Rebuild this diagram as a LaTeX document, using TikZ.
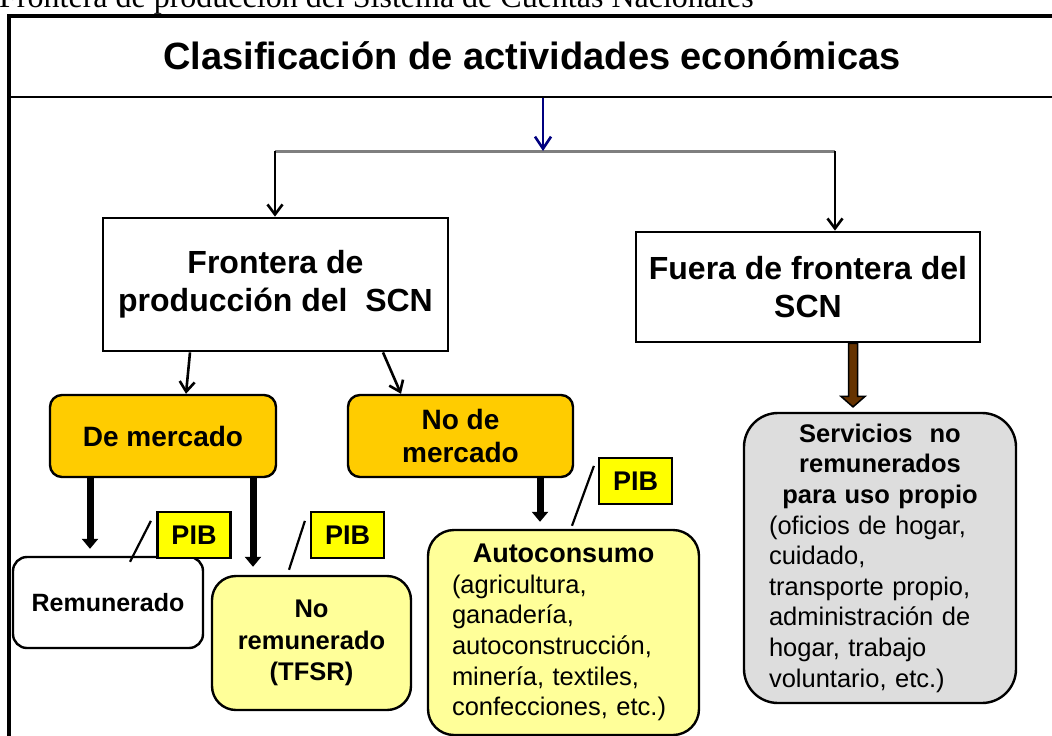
\documentclass[tikz,border=0pt]{standalone}
\usepackage{fontspec}
\setmainfont{Liberation Serif}
\setsansfont{Liberation Sans}
\usetikzlibrary{arrows.meta}
\setlength{\parindent}{0pt}
\definecolor{orangebox}{HTML}{FFCC00}
\definecolor{paleyellow}{HTML}{FFFF99}
\definecolor{pibyellow}{HTML}{FFFF00}
\definecolor{graybox}{HTML}{DDDDDD}
\definecolor{brownarrow}{HTML}{663300}
\definecolor{navyarrow}{HTML}{000080}
\definecolor{splitgray}{HTML}{7F7F7F}
\begin{document}
\begin{tikzpicture}[x=1pt,y=1pt]
\tikzstyle{every node}+=[inner sep=0pt]
\tikzstyle{sqbox}=[draw, line width=2.8pt, fill=white, align=center, font=\sffamily\bfseries\fontsize{32}{38}\selectfont]
\tikzstyle{rbox}=[draw, line width=2.4pt, rounded corners=12pt, align=center, font=\sffamily\bfseries\fontsize{28}{33}\selectfont]
\tikzstyle{pib}=[draw, line width=2.2pt, fill=pibyellow, minimum width=73pt, minimum height=46pt, font=\sffamily\bfseries\fontsize{27}{32}\selectfont]
\tikzstyle{leaf}=[draw, line width=2.4pt, align=center, font=\sffamily\bfseries\fontsize{25.5}{31.5}\selectfont]
\tikzstyle{textleaf}=[draw, line width=2.4pt, align=left, font=\sffamily\fontsize{25.5}{30.6}\selectfont]
\tikzstyle{thinarrow}=[line width=2.6pt, -{Straight Barb[width=15pt,length=10pt]}]
\tikzstyle{thickarrow}=[line width=7pt, -{Triangle[width=16pt,length=10pt]}]
\tikzstyle{slash}=[line width=2.2pt]
\useasboundingbox (0,0) rectangle (1052,-736);
\clip (0,0) rectangle (1052,-736);
\node [anchor=base west, font=\rmfamily\fontsize{32}{38}\selectfont] (caption) at (-1,-7) {Frontera de producción del Sistema de Cuentas Nacionales};
\node [draw, line width=2.4pt, minimum width=1046pt, minimum height=82pt, font=\sffamily\bfseries\fontsize{38}{46}\selectfont] (title) at (532,-56) {Clasificación de actividades económicas};
\draw [line width=4pt] (8.7,-15.5) rectangle (1070,-760);
\node [sqbox, minimum width=345pt, minimum height=133pt] (frontera) at (275.5,-284.5) {Frontera de\\producción del\ \ SCN};
\node [sqbox, minimum width=344pt, minimum height=110pt] (fuera) at (808,-287) {Fuera de frontera del\\SCN};
\node [rbox, fill=orangebox, minimum width=226pt, minimum height=82pt] (mercado) at (163,-436) {De mercado};
\node [rbox, fill=orangebox, minimum width=225pt, minimum height=82pt] (nomercado) at (460.5,-436) {No de\\mercado};
\node [leaf, fill=white, rounded corners=14pt, minimum width=190pt, minimum height=91pt, font=\sffamily\bfseries\fontsize{25}{30}\selectfont] (remunerado) at (108,-602.5) {Remunerado};
\node [leaf, fill=paleyellow, rounded corners=24pt, minimum width=199pt, minimum height=134pt] (noremunerado) at (311.5,-643) {No\\remunerado\\(TFSR)};
\node [textleaf, fill=paleyellow, rounded corners=26pt, text width=223pt, minimum width=271pt, minimum height=205pt] (autoconsumo) at (563.5,-632.5) {{\centering\bfseries\fontsize{27}{30.6}\selectfont Autoconsumo\par}(agricultura,\\ganadería,\\autoconstrucción,\\minería, textiles,\\confecciones, etc.)};
\node [textleaf, fill=graybox, rounded corners=34pt, text width=222pt, minimum width=272pt, minimum height=290pt] (servicios) at (880,-558) {{\centering\bfseries Servicios\ \ no\\remunerados\\para uso propio\par}(oficios de hogar,\\cuidado,\\transporte propio,\\administración de\\hogar, trabajo\\voluntario, etc.)};
\node [pib] (pib1) at (194,-535) {PIB};
\node [pib] (pib2) at (347.5,-535) {PIB};
\node [pib] (pib3) at (635.5,-481) {PIB};
\coordinate (splitL) at (275,-151);
\coordinate (splitC) at (543,-151);
\coordinate (splitR) at (835,-151);
\draw [line width=3pt, splitgray] (splitL) -- (splitR);
\draw [line width=2.6pt, navyarrow, -{Straight Barb[width=16pt,length=12pt]}] (title.south -| splitC) -- (splitC);
\draw [thinarrow] (splitL) -- (splitL |- frontera.north);
\draw [thinarrow] (splitR) -- (splitR |- fuera.north);
\draw [thinarrow] ([xshift=-85.5pt]frontera.south) -- ([xshift=23pt]mercado.north);
\draw [thinarrow] ([xshift=107.5pt]frontera.south) -- ([xshift=-59.5pt]nomercado.north);
\coordinate (m1) at ([xshift=-73pt]mercado.south);
\coordinate (m2) at ([xshift=90pt]mercado.south);
\coordinate (m3) at ([xshift=79.5pt]nomercado.south);
\draw [thickarrow, shorten >=7pt] (m1) -- (m1 |- remunerado.north);
\draw [thickarrow, shorten >=8pt] (m2) -- (m2 |- noremunerado.north);
\draw [thickarrow, shorten >=7pt] (m3) -- (m3 |- autoconsumo.north);
\draw [line width=1.5pt, fill=brownarrow] ([xshift=40.5pt]fuera.south) -- ++(0,-53) -- ++(-7.5,0) -- ++(12,-10.5) -- ++(12,10.5) -- ++(-7.5,0) -- ++(0,53) -- cycle;
\draw [slash] ([xshift=-5.5pt,yshift=-10pt]pib1.north west) -- ([xshift=22pt,yshift=-6pt]remunerado.north);
\draw [slash] ([xshift=-5pt,yshift=-10pt]pib2.north west) -- ([xshift=-22.5pt,yshift=5pt]noremunerado.north);
\draw [slash] ([xshift=-4pt,yshift=-9pt]pib3.north west) -- ([xshift=8.5pt,yshift=3pt]autoconsumo.north);
\end{tikzpicture}
\end{document}
